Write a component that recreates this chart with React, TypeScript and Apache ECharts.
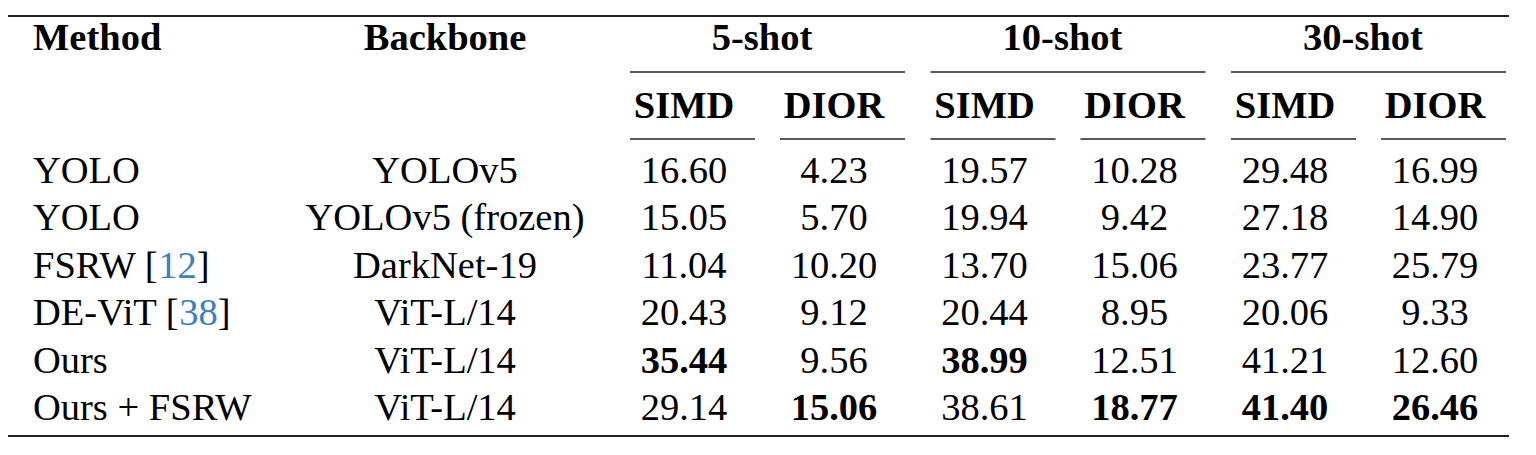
import React, { useEffect, useRef } from 'react';
import * as echarts from 'echarts';

// table content
const methods = ['YOLO', 'YOLO', 'FSRW', 'DE-ViT', 'Ours', 'Ours + FSRW'];
const methodRefs = ['', '', '12', '38', '', ''];
const backbones = ['YOLOv5', 'YOLOv5 (frozen)', 'DarkNet-19', 'ViT-L/14', 'ViT-L/14', 'ViT-L/14'];
const shotLabels = ['5-shot', '10-shot', '30-shot'];
const datasetLabels = ['SIMD', 'DIOR'];
const simd5 = [16.6, 15.05, 11.04, 20.43, 35.44, 29.14];
const dior5 = [4.23, 5.7, 10.2, 9.12, 9.56, 15.06];
const simd10 = [19.57, 19.94, 13.7, 20.44, 38.99, 38.61];
const dior10 = [10.28, 9.42, 15.06, 8.95, 12.51, 18.77];
const simd30 = [29.48, 27.18, 23.77, 20.06, 41.21, 41.4];
const dior30 = [16.99, 14.9, 25.79, 9.33, 12.6, 26.46];
const bestRow = [4, 5, 4, 5, 5, 5]; // bold row in each value column

const valueCols = [simd5, dior5, simd10, dior10, simd30, dior30];

// layout (pixel units on hidden value axes)
const W = 1536;
const H = 455;
const FONT = "'Liberation Serif', 'Times New Roman', serif";
const FS = 38.5;
const CITE = '#3a7fc2';
const RULE = '#222';
const METHOD_X = 33;
const BACKBONE_X = 445;
const GROUP_LEFT = [630, 930.5, 1231];
const GROUP_W = 275;
const GROUP_MID = 132;
const SUB_OFF = [54, 204];
const SUB_RULE = [[0, 125], [150, 275]];
const HEAD1_Y = 37;
const HEAD2_Y = 105;
const ROW0_Y = 170;
const ROW_STEP = 47.4;
const TOP_Y = 16;
const CMID_Y = 72;
const SUB_Y = 139;
const BOTTOM_Y = 436;
const RULE_L = 8;
const RULE_R = 1509;

type Cell = { x: number; y: number; text: string; align: string; bold: boolean; cite?: string };

const buildCells = (): Cell[] => {
  const cells: Cell[] = [];
  cells.push({ x: METHOD_X, y: HEAD1_Y, text: 'Method', align: 'left', bold: true });
  cells.push({ x: BACKBONE_X, y: HEAD1_Y, text: 'Backbone', align: 'center', bold: true });
  shotLabels.forEach((s, g) => {
    cells.push({ x: GROUP_LEFT[g] + GROUP_MID, y: HEAD1_Y, text: s, align: 'center', bold: true });
    datasetLabels.forEach((d, k) => {
      cells.push({ x: GROUP_LEFT[g] + SUB_OFF[k], y: HEAD2_Y, text: d, align: 'center', bold: true });
    });
  });
  methods.forEach((m, r) => {
    const y = ROW0_Y + r * ROW_STEP;
    cells.push({ x: METHOD_X, y, text: m, align: 'left', bold: false, cite: methodRefs[r] || undefined });
    cells.push({ x: BACKBONE_X, y, text: backbones[r], align: 'center', bold: false });
    valueCols.forEach((col, c) => {
      const g = Math.floor(c / 2);
      cells.push({
        x: GROUP_LEFT[g] + SUB_OFF[c % 2],
        y,
        text: col[r].toFixed(2),
        align: 'center',
        bold: bestRow[c] === r,
      });
    });
  });
  return cells;
};

const buildRules = (): number[][] => {
  const rules: number[][] = [
    [RULE_L, TOP_Y, RULE_R, 2],
    [RULE_L, BOTTOM_Y, RULE_R, 2],
  ];
  GROUP_LEFT.forEach((gx) => {
    rules.push([gx, CMID_Y, gx + GROUP_W, 1.3]);
    SUB_RULE.forEach(([a, b]) => rules.push([gx + a, SUB_Y, gx + b, 1.3]));
  });
  return rules;
};

const App: React.FC = () => {
  const chartRef = useRef<HTMLDivElement>(null);

  useEffect(() => {
    if (!chartRef.current) return;
    document.body.style.margin = '0';
    const chart = echarts.init(chartRef.current, null, { renderer: 'svg' });
    const cells = buildCells();
    const rules = buildRules();

    chart.setOption({
      animation: false,
      backgroundColor: '#fff',
      grid: { left: 0, right: 0, top: 0, bottom: 0 },
      xAxis: { type: 'value', min: 0, max: W, show: false },
      yAxis: { type: 'value', min: 0, max: H, inverse: true, show: false },
      series: [
        {
          type: 'custom',
          silent: true,
          clip: false,
          data: rules,
          renderItem: (_p: any, api: any) => {
            const a = api.coord([api.value(0), api.value(1)]);
            const b = api.coord([api.value(2), api.value(1)]);
            return {
              type: 'line',
              shape: { x1: a[0], y1: a[1], x2: b[0], y2: b[1] },
              style: { stroke: RULE, lineWidth: api.value(3) },
            };
          },
        },
        {
          type: 'custom',
          silent: true,
          clip: false,
          data: cells.map((c, i) => [c.x, c.y, i]),
          renderItem: (_p: any, api: any) => {
            const c = cells[api.value(2)];
            const [px, py] = api.coord([api.value(0), api.value(1)]);
            const base = {
              fontFamily: FONT,
              fontSize: FS,
              fontWeight: c.bold ? 'bold' : 'normal',
              fill: '#000',
            };
            const style: any = c.cite
              ? {
                  ...base,
                  text: `{n|${c.text} [}{c|${c.cite}}{n|]}`,
                  rich: { n: { ...base }, c: { ...base, fill: CITE } },
                }
              : { ...base, text: c.text };
            return {
              type: 'text',
              x: px,
              y: py,
              style: { ...style, align: c.align, verticalAlign: 'middle' },
            };
          },
        },
      ],
    });

    return () => {
      chart.dispose();
    };
  }, []);

  return <div ref={chartRef} style={{ width: W, height: H }} />;
};

export default App;
